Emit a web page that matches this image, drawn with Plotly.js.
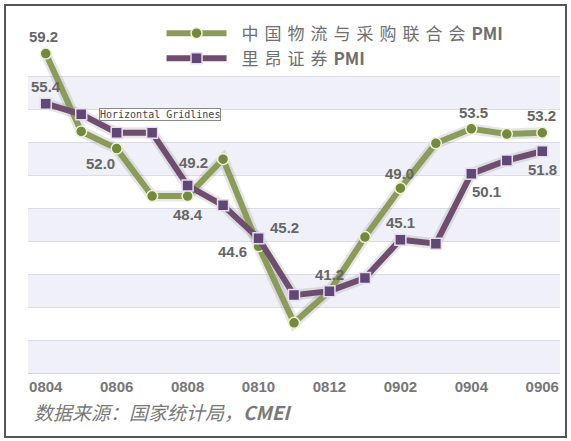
<!DOCTYPE html>
<html>
<head>
<meta charset="utf-8">
<script src="https://cdn.plot.ly/plotly-3.0.1.min.js"></script>
<style>
html,body{margin:0;padding:0;background:#fff;}
#chart{width:571px;height:441px;}
</style>
</head>
<body>
<div id="chart"></div>
<script>
// ---- data ----
var months = ['0804','0805','0806','0807','0808','0809','0810','0811','0812','0901','0902','0903','0904','0905','0906'];
var tickMonths = ['0804','0806','0808','0810','0812','0902','0904','0906'];
var cflpName = '中国物流与采购联合会<b>PMI</b>';
var clsaName = '里昂证券<b>PMI</b>';
var cflpPMI = [59.2, 53.3, 52.0, 48.4, 48.4, 51.2, 44.6, 38.8, 41.2, 45.3, 49.0, 52.4, 53.5, 53.1, 53.2];
var clsaPMI = [55.4, 54.6, 53.2, 53.2, 49.2, 47.7, 45.2, 40.9, 41.2, 42.2, 45.1, 44.8, 50.1, 51.1, 51.8];
var cflpLabelled = ['0804','0806','0808','0810','0812','0902','0904','0906'];
var clsaLabelled = ['0804','0808','0810','0902','0904','0906'];
var sourceText = '<i>数据来源：国家统计局，<b>CMEI</b></i>';
var noteText = 'Horizontal Gridlines';

// ---- styling ----
var green = '#8a9b5a', greenMarker = '#72893f';
var purple = '#6e4d6e', purpleMarker = '#5f4876';
var labelShift = {
  cflp: {'0804':[-2,17],'0806':[-16,-15],'0808':[0,-18],'0810':[-26,-5],'0812':[0,17],'0902':[-1,15],'0904':[2,16],'0906':[-1,17]},
  clsa: {'0804':[0,17],'0808':[6,23],'0810':[26,11],'0902':[0,17],'0904':[15,-18],'0906':[0,-18]}
};

var idx = months.map(function(m, i){ return i; });

var traces = [
  {x: idx, y: cflpPMI, mode:'lines', line:{color:'rgba(60,60,60,0.13)', width:11}, showlegend:false, hoverinfo:'skip'},
  {x: idx, y: clsaPMI, mode:'lines', line:{color:'rgba(60,60,60,0.13)', width:11}, showlegend:false, hoverinfo:'skip'},
  {x: idx, y: cflpPMI, name: cflpName, mode:'lines+markers',
   line:{color:green, width:6},
   marker:{symbol:'circle', size:11, color:greenMarker, line:{color:'#eef3d2', width:1.5}}},
  {x: idx, y: clsaPMI, name: clsaName, mode:'lines+markers',
   line:{color:purple, width:6},
   marker:{symbol:'square', size:11, color:purpleMarker, line:{color:'#eadcf0', width:1.5}}}
];

var annotations = [];
function addLabels(list, cats, vals, shifts){
  list.forEach(function(m){
    var i = cats.indexOf(m);
    var s = shifts[m] || [0,16];
    annotations.push({x:i, y:vals[i], xref:'x', yref:'y', text: vals[i].toFixed(1), showarrow:false,
      xanchor:'center', yanchor:'middle',
      xshift:s[0], yshift:s[1], font:{family:'Liberation Sans, Arial, sans-serif', size:15, color:'#666', weight:'bold'}});
  });
}
addLabels(cflpLabelled, months, cflpPMI, labelShift.cflp);
addLabels(clsaLabelled, months, clsaPMI, labelShift.clsa);

annotations.push({xref:'paper', yref:'paper', x:0.248, y:0.782, xanchor:'center', yanchor:'middle', text:noteText, showarrow:false,
  font:{family:'DejaVu Sans Mono, monospace', size:10, color:'#444'}, bgcolor:'#fff', bordercolor:'#888', borderwidth:1, borderpad:0});
annotations.push({xref:'paper', yref:'paper', x:0.008, y:-0.118, xanchor:'left', yanchor:'middle', text:sourceText, showarrow:false,
  font:{family:'Noto Sans CJK SC, sans-serif', size:19, color:'#7a7a7a'}});

// alternating bands
var gridVals = [35, 37.5, 40, 42.5, 45, 47.5, 50, 52.5, 55, 57.5, 60];
var shapes = [];
for (var g = 0; g < gridVals.length - 1; g += 2){
  shapes.push({type:'rect', xref:'paper', yref:'y', x0:0, x1:1, y0:gridVals[g], y1:gridVals[g+1],
    fillcolor:'#f0f0f8', line:{width:0}, layer:'below'});
}
shapes.push({type:'rect', xref:'paper', yref:'paper', x0:-0.0432, x1:1.0113, y0:-0.194, y1:1.115,
  line:{color:'#555', width:2}, fillcolor:'rgba(0,0,0,0)'});

var layout = {
  width:571, height:441,
  margin:{l:28, r:11, t:43, b:68},
  paper_bgcolor:'#fff', plot_bgcolor:'#fff',
  showlegend:true,
  legend:{x:0.251, y:1.083, xanchor:'left', yanchor:'top', bgcolor:'rgba(0,0,0,0)',
    font:{family:'Noto Sans CJK SC, sans-serif', size:17, color:'#707070'}, itemwidth:60, tracegroupgap:0},
  xaxis:{range:[-0.5,14.5], tickvals:tickMonths.map(function(m){ return months.indexOf(m); }), ticktext:tickMonths,
    showgrid:false, zeroline:false, ticks:'',
    showline:true, linecolor:'#d4d4e0', linewidth:1,
    tickfont:{family:'Liberation Sans, Arial, sans-serif', size:15, color:'#777', weight:'bold'}},
  yaxis:{range:[35,60], dtick:2.5, tick0:35, showgrid:true, gridcolor:'#dcdce4', gridwidth:1,
    showticklabels:false, zeroline:false, ticks:''},
  annotations:annotations,
  shapes:shapes,
  hovermode:false
};

Plotly.newPlot('chart', traces, layout, {staticPlot:true}).then(function(){
  document.querySelectorAll('.legend .scrollbox, .legend [clip-path]').forEach(function(el){ el.removeAttribute('clip-path'); });
  document.querySelectorAll('.legendtext').forEach(function(t){
    t.style.letterSpacing = '6px';
    var x0 = parseFloat(t.getAttribute('x')) || 0;
    t.setAttribute('x', x0 + 10);
    t.querySelectorAll('tspan').forEach(function(s){
      if ((s.getAttribute('style') || '').indexOf('bold') >= 0) s.style.letterSpacing = '0px';
    });
  });
});
</script>
</body>
</html>
